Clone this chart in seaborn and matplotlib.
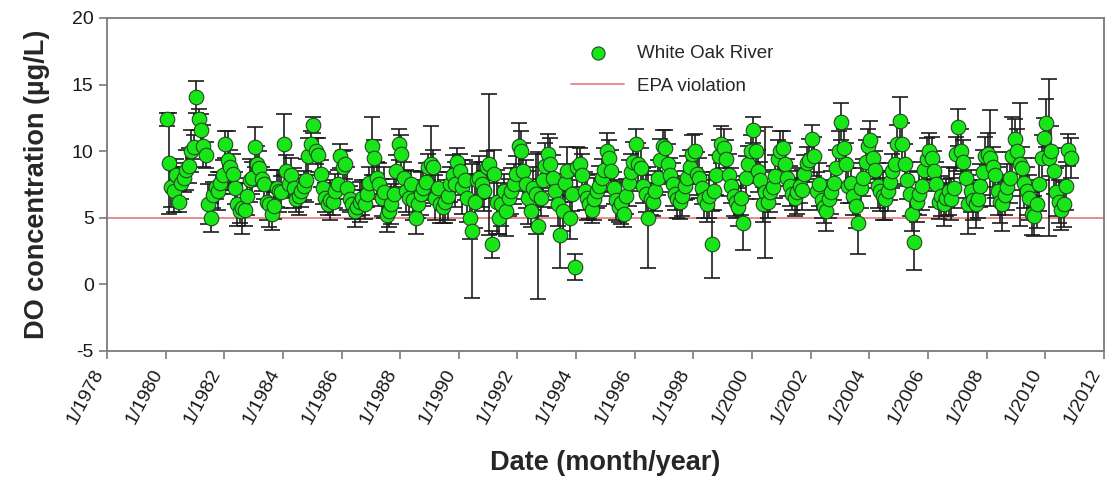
import numpy as np
import pandas as pd
import matplotlib
matplotlib.use("Agg")
import matplotlib.pyplot as plt
import matplotlib.dates as mdates
import seaborn as sns
from datetime import datetime

# Monthly dissolved-oxygen means (Jan..Dec per row), White Oak River
do_1980s = [
    12.4, 9.1, 7.3, 7.0, 8.2, 6.2, 7.6, 8.0, 8.6, 8.9, 10.0, 10.3,
    14.1, 12.4, 11.6, 10.4, 9.7, 6.0, 5.0, 6.7, 7.3, 7.0, 7.6, 8.2,
    10.5, 9.3, 8.8, 8.3, 7.2, 6.0, 5.5, 5.7, 5.6, 6.6, 7.8, 8.0,
    10.3, 9.0, 8.7, 7.9, 7.5, 6.2, 6.0, 5.3, 5.9, 7.2, 7.0, 6.9,
    10.5, 8.5, 7.5, 8.2, 7.2, 6.4, 6.6, 7.0, 7.4, 7.8, 9.6, 10.5,
    12.0, 10.0, 9.7, 8.3, 7.2, 6.5, 6.0, 6.3, 6.2, 7.0, 7.5, 9.6,
    8.8, 9.0, 7.2, 6.4, 6.0, 5.5, 5.8, 6.2, 6.5, 6.0, 6.8, 7.6,
    10.4, 9.5, 8.0, 7.5, 6.5, 6.9, 5.2, 5.5, 6.0, 6.8, 8.5, 10.5,
    9.8, 8.0, 7.0, 6.5, 7.5, 6.3, 5.0, 6.0, 6.8, 7.2, 7.7, 8.8,
    9.0, 8.8, 6.5, 7.2, 6.0, 5.8, 6.2, 6.6, 7.5, 8.2, 7.5, 9.2,
]
do_1990s = [
    8.5, 7.3, 7.8, 6.5, 5.0, 4.0, 6.2, 7.8, 8.0, 7.5, 7.0, 8.8,
    9.0, 3.0, 8.3, 6.2, 5.0, 6.0, 7.0, 5.5, 6.5, 7.0, 7.5, 8.3,
    10.4, 10.0, 8.5, 7.5, 6.5, 5.5, 7.2, 6.8, 4.4, 6.5, 7.8, 8.9,
    9.8, 9.0, 8.0, 7.0, 6.0, 3.7, 5.5, 7.6, 8.5, 5.0, 6.8, 1.3,
    8.8, 9.0, 8.2, 7.0, 6.5, 6.0, 5.6, 6.4, 7.0, 7.4, 8.0, 8.6,
    10.0, 9.5, 8.5, 7.2, 6.3, 5.8, 6.1, 5.3, 6.6, 7.6, 8.4, 9.2,
    10.5, 9.0, 8.7, 7.4, 6.8, 5.0, 6.4, 6.2, 7.0, 8.0, 9.3, 10.4,
    10.2, 9.0, 8.2, 7.5, 6.8, 6.4, 6.2, 6.6, 7.4, 8.0, 8.8, 9.8,
    10.0, 8.3, 8.0, 7.2, 6.4, 6.0, 6.6, 3.0, 7.0, 8.2, 9.6, 10.5,
    10.2, 9.4, 8.2, 7.4, 6.6, 6.2, 5.8, 6.5, 4.6, 8.0, 9.0, 10.0,
]
do_2000s = [
    11.6, 10.0, 8.5, 7.8, 6.0, 6.9, 6.2, 6.9, 7.3, 8.1, 9.4, 10.0,
    10.2, 9.0, 8.0, 7.4, 6.8, 6.5, 6.9, 7.4, 7.1, 8.3, 9.1, 9.3,
    10.9, 9.6, 7.0, 7.5, 6.3, 5.8, 5.5, 6.4, 6.9, 7.6, 8.7, 10.0,
    12.2, 10.2, 9.0, 7.4, 7.6, 6.6, 5.9, 4.6, 7.2, 8.0, 9.2, 10.4,
    10.8, 9.5, 8.6, 7.4, 7.0, 6.6, 6.4, 7.0, 7.7, 8.5, 9.0, 10.5,
    12.3, 10.5, 9.0, 7.8, 6.8, 5.3, 3.2, 6.2, 6.8, 7.4, 8.6, 9.4,
    10.0, 9.5, 8.5, 7.5, 6.2, 6.6, 6.0, 6.5, 7.0, 6.4, 7.2, 9.8,
    11.8, 10.0, 9.2, 8.0, 6.0, 7.0, 6.3, 6.0, 6.4, 7.4, 8.4, 9.6,
    9.8, 9.5, 8.8, 8.2, 7.0, 6.2, 6.0, 6.7, 7.3, 8.0, 9.6, 10.9,
    10.0, 9.0, 8.7, 7.6, 7.0, 6.5, 5.3, 5.1, 6.0, 7.5, 9.5, 11.0,
]
do_2010 = [12.1, 9.5, 10.0, 8.5, 6.9, 6.2, 5.6, 6.0, 7.4, 10.1, 9.5]

# Standard deviations for each monthly mean
sd_1980s = [
    0.5, 3.8, 1.5, 1.6, 1.2, 0.8, 1.2, 1.1, 1.5, 1.3, 1.6, 0.9,
    1.2, 0.8, 1.2, 1.6, 1.0, 1.5, 1.1, 1.0, 0.9, 1.4, 0.8, 1.1,
    1.0, 2.2, 1.3, 1.5, 1.2, 1.6, 0.9, 1.9, 1.2, 1.4, 1.6, 1.2,
    1.5, 1.4, 1.3, 0.9, 1.1, 1.4, 1.7, 1.2, 1.0, 1.4, 1.6, 1.2,
    2.3, 1.2, 1.0, 1.3, 1.5, 1.0, 1.4, 1.2, 1.1, 1.6, 1.4, 1.0,
    0.6, 1.0, 1.3, 1.0, 1.2, 1.1, 0.8, 1.5, 1.0, 1.3, 1.1, 0.9,
    1.2, 1.1, 1.6, 1.0, 1.1, 1.2, 0.7, 1.5, 1.3, 1.1, 1.0, 1.2,
    2.2, 1.3, 1.2, 1.6, 1.4, 1.9, 1.3, 1.2, 1.5, 1.1, 1.2, 1.2,
    1.4, 1.2, 1.6, 1.3, 1.0, 1.5, 1.2, 1.0, 1.6, 1.3, 1.4, 1.0,
    2.9, 1.3, 1.7, 1.2, 1.4, 1.2, 1.6, 1.8, 1.3, 1.5, 1.7, 1.0,
]
sd_1990s = [
    1.3, 2.0, 1.5, 1.8, 1.6, 5.0, 2.0, 1.4, 1.6, 1.7, 1.5, 1.2,
    5.3, 1.0, 1.8, 2.4, 1.2, 1.6, 1.3, 1.9, 1.4, 1.7, 1.5, 1.3,
    1.7, 1.5, 2.1, 1.8, 2.0, 1.2, 1.6, 3.0, 5.5, 1.4, 2.0, 1.7,
    1.5, 2.0, 1.7, 1.3, 1.6, 2.5, 1.5, 1.4, 1.8, 1.6, 1.3, 1.0,
    1.5, 1.2, 1.6, 1.4, 1.7, 1.1, 1.0, 1.6, 1.3, 1.5, 1.4, 1.6,
    1.4, 1.3, 1.6, 1.2, 1.5, 1.1, 1.6, 1.0, 1.3, 1.7, 1.4, 1.5,
    1.2, 1.6, 1.5, 1.3, 1.4, 3.8, 1.2, 1.1, 1.5, 1.3, 1.6, 1.2,
    1.4, 1.5, 1.3, 1.6, 1.2, 1.4, 1.3, 1.5, 1.1, 1.6, 1.3, 1.4,
    1.3, 1.6, 1.5, 1.2, 1.4, 1.3, 1.6, 2.5, 1.4, 1.5, 1.2, 1.4,
    1.5, 1.4, 1.6, 1.3, 1.5, 1.2, 1.4, 1.3, 2.0, 1.6, 1.4, 1.2,
]
sd_2000s = [
    1.0, 1.5, 1.6, 1.4, 1.3, 4.9, 1.2, 1.5, 1.3, 1.6, 1.4, 1.5,
    1.3, 1.6, 1.4, 1.5, 1.2, 1.4, 1.6, 1.3, 1.5, 1.4, 1.2, 1.6,
    1.1, 1.5, 1.4, 1.6, 1.3, 1.2, 1.5, 1.4, 1.6, 1.3, 1.4, 1.5,
    1.4, 1.5, 1.6, 1.3, 1.5, 1.4, 1.7, 2.3, 1.5, 1.4, 1.6, 1.3,
    1.5, 1.6, 1.4, 1.7, 1.5, 1.8, 1.6, 1.5, 1.4, 1.3, 1.6, 1.5,
    1.8, 1.6, 1.5, 1.4, 1.7, 1.3, 2.1, 1.5, 1.6, 1.8, 1.4, 1.6,
    1.4, 1.6, 1.5, 1.7, 1.3, 1.5, 1.6, 1.4, 1.8, 1.6, 1.5, 1.3,
    1.4, 1.7, 1.6, 1.5, 2.2, 1.6, 1.5, 1.8, 1.4, 1.6, 1.7, 1.5,
    1.6, 3.6, 1.5, 1.7, 1.8, 1.6, 2.0, 1.5, 1.7, 1.9, 3.0, 1.5,
    1.7, 4.6, 1.6, 1.9, 1.8, 1.7, 1.6, 1.5, 1.8, 2.0, 1.7, 1.5,
]
sd_2010 = [1.8, 5.9, 1.9, 1.7, 1.8, 1.6, 1.5, 1.7, 1.8, 1.2, 1.5]

EPA_LIMIT = 5.0
tick_years = list(range(1978, 2013, 2))
tick_labels = [f"1/{y}" for y in tick_years]

sns.set_style("ticks")
plt.rcParams["font.family"] = ["Liberation Sans", "DejaVu Sans"]
plt.rcParams["axes.unicode_minus"] = False

values = np.array(do_1980s + do_1990s + do_2000s + do_2010, dtype=float)
errors = np.array(sd_1980s + sd_1990s + sd_2000s + sd_2010, dtype=float)
dates = pd.date_range("1980-01-01", periods=len(values), freq="MS") + pd.Timedelta(days=14)
df = pd.DataFrame({"date": dates, "do": values, "sd": errors})

fig, ax = plt.subplots(figsize=(11.14, 4.8), dpi=100)
fig.subplots_adjust(left=0.096, right=0.991, top=0.9625, bottom=0.269)

line = ax.axhline(EPA_LIMIT, color="#e07a7a", lw=1.2, label="EPA violation", zorder=1)
ax.errorbar(df["date"], df["do"], yerr=df["sd"], fmt="none", ecolor="#1c1c1c",
            elinewidth=1.2, capsize=6, capthick=1.2, zorder=2)
sns.scatterplot(data=df, x="date", y="do", ax=ax, s=110, color="#19e619",
                edgecolor="#1f4a1f", linewidth=0.8, zorder=3, label="White Oak River")

ax.set_xlim(datetime(1978, 1, 1), datetime(2012, 1, 1))
ax.set_ylim(-5, 20)
ax.set_yticks([-5, 0, 5, 10, 15, 20])
ax.set_xticks([mdates.date2num(datetime(y, 1, 1)) for y in tick_years])
ax.set_xticklabels(tick_labels)
for lab in ax.get_xticklabels():
    lab.set_rotation(62)
    lab.set_ha("right")
    lab.set_va("bottom")
    lab.set_rotation_mode("anchor")

ax.tick_params(direction="out", length=6, width=1.2, color="#7a7a7a",
               labelsize=14, labelcolor="#1a1a1a")
ax.tick_params(axis="x", labelsize=14, pad=11)
for sp in ax.spines.values():
    sp.set_color("#7a7a7a")
    sp.set_linewidth(1.3)
    sp.set_visible(True)

ax.set_xlabel("Date (month/year)", fontsize=19.5, fontweight="bold", labelpad=16)
ax.set_ylabel("DO concentration (µg/L)", fontsize=19.5, fontweight="bold", labelpad=16)

handles, labels = ax.get_legend_handles_labels()
order = [labels.index("White Oak River"), labels.index("EPA violation")]
ax.legend([handles[i] for i in order], [labels[i] for i in order],
          loc="upper left", bbox_to_anchor=(0.449, 0.97), frameon=False,
          fontsize=13.5, handlelength=2.8, handletextpad=0.7,
          labelspacing=0.85, markerscale=0.9)

fig.savefig("out.png", dpi=100)
